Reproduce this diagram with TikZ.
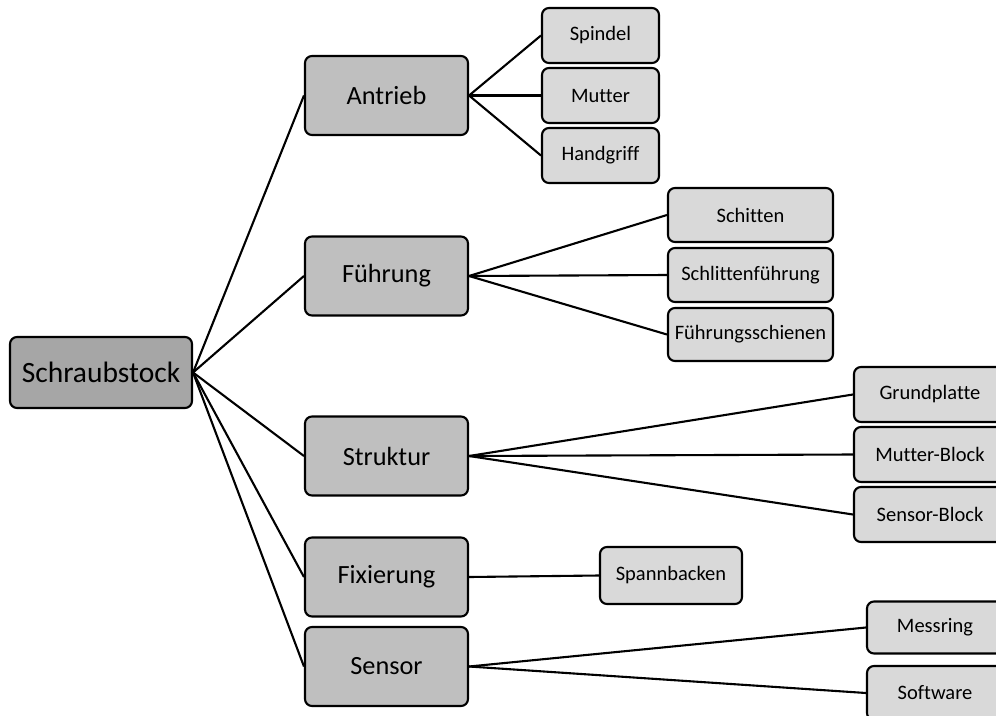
\documentclass[tikz,border=0pt]{standalone}
\usepackage{fontspec}
\setmainfont{Carlito}[Ligatures=NoCommon]
\begin{document}
\begin{tikzpicture}[x=1pt,y=-1pt,
  box/.style={draw=black, line width=2.1pt, rounded corners=7pt, inner sep=0pt,
    align=center, text=black},
  rootbox/.style={box, fill=rootgray, font=\fontsize{29.5}{33}\selectfont},
  groupbox/.style={box, fill=groupgray, minimum width=163pt, minimum height=79pt,
    font=\fontsize{26.3}{30}\selectfont},
  partbox/.style={box, fill=partgray, minimum height=55pt,
    font=\fontsize{20.5}{24}\selectfont},
  link/.style={draw=black, line width=2.1pt}]
\definecolor{rootgray}{HTML}{A6A6A6}
\definecolor{groupgray}{HTML}{BFBFBF}
\definecolor{partgray}{HTML}{D9D9D9}
\useasboundingbox (0,0) rectangle (996,715);
\clip (0,0) rectangle (996,715);

% root
\node[rootbox, minimum width=182pt, minimum height=71pt] (root) at (101,372.5) {Schraubstock};

% main groups
\node[groupbox] (antrieb)   at (386.5,95.5)  {Antrieb};
\node[groupbox] (fuehrung)  at (386.5,276)   {Führung};
\node[groupbox] (struktur)  at (386.5,456)   {Struktur};
\node[groupbox] (fixierung) at (386.5,577)   {Fixierung};
\node[groupbox] (sensor)    at (386.5,666.5) {Sensor};

% parts of Antrieb
\node[partbox, minimum width=117pt] (spindel)   at (600.5,35.5)  {Spindel};
\node[partbox, minimum width=117pt] (mutter)    at (600.5,95.5)  {Mutter};
\node[partbox, minimum width=117pt] (handgriff) at (600.5,155.5) {Handgriff};

% parts of Führung
\node[partbox, minimum width=165pt, minimum height=54pt] (schitten) at (750.5,215) {Schitten};
\node[partbox, minimum width=165pt, minimum height=54pt] (schlf)    at (750.5,275) {Schlittenführung};
\node[partbox, minimum width=165pt, minimum height=53pt] (fschien)  at (750.5,334.5) {Führungsschienen};

% parts of Struktur
\node[partbox, minimum width=152pt] (grund)   at (930,394.5) {Grundplatte};
\node[partbox, minimum width=152pt] (mblock)  at (930,454.5) {Mutter-Block};
\node[partbox, minimum width=152pt] (sblock)  at (930,514.5) {Sensor-Block};

% part of Fixierung
\node[partbox, minimum width=142pt, minimum height=57pt] (spann) at (671,575.5) {Spannbacken};

% parts of Sensor
\node[partbox, minimum width=136pt, minimum height=52pt] (messring) at (935,627.5) {Messring};
\node[partbox, minimum width=136pt, minimum height=54pt] (software) at (935,693)   {Software};

% connectors
\foreach \g in {antrieb,fuehrung,struktur,fixierung,sensor}
  \draw[link] (root.east) -- (\g.west);
\foreach \p in {spindel,mutter,handgriff}
  \draw[link] (antrieb.east) -- (\p.west);
\foreach \p in {schitten,schlf,fschien}
  \draw[link] (fuehrung.east) -- (\p.west);
\foreach \p in {grund,mblock,sblock}
  \draw[link] (struktur.east) -- (\p.west);
\draw[link] (fixierung.east) -- (spann.west);
\foreach \p in {messring,software}
  \draw[link] (sensor.east) -- (\p.west);
\end{tikzpicture}
\end{document}
